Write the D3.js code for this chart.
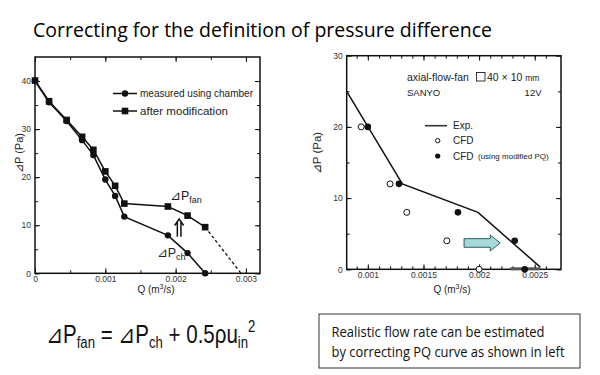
<!DOCTYPE html>
<html lang="en">
<head>
  <meta charset="UTF-8">
  <title>PQ correction</title>
  <script src="https://d3js.org/d3.v7.min.js"></script>
  <style>
    body { margin: 0; background: #fff; }
    .tick text { font-family: "Liberation Sans", Arial, sans-serif; font-size: 8.5px; fill: #333; }
    .lbl { font-family: "Liberation Sans", Arial, sans-serif; fill: #222; }
  </style>
</head>
<body>
  <svg width="600" height="375"></svg>

  <script>
    // left chart: measured with chamber vs after modification
    const qLeft = [0, 0.0002, 0.00045, 0.00067, 0.00083, 0.001, 0.00114, 0.00127, 0.00189, 0.00217, 0.00242];
    const pMeasured = [40, 35.6, 31.7, 27.7, 24.6, 19.5, 16.1, 11.8, 7.9, 4.2, 0];
    const pModified = [40.1, 35.8, 31.9, 28.4, 25.7, 21.2, 18.2, 14.5, 13.9, 12.0, 9.6];
    const qExtrap = [0.00242, 0.00293];
    const pExtrap = [9.6, 0];
    const leftXTicks = [0, 0.001, 0.002, 0.003];
    const leftYTicks = [0, 10, 20, 30, 40];

    // right chart: experiment vs CFD
    const qExp = [0.00081, 0.00131, 0.00199, 0.00255];
    const pExp = [25, 12, 8, 0.3];
    const qCfd = [0.00094, 0.0012, 0.00135, 0.00171, 0.002];
    const pCfd = [20, 12, 8, 4, 0];
    const qCfdMod = [0.001, 0.00128, 0.00181, 0.00232, 0.00241];
    const pCfdMod = [20, 12, 8, 4, 0];
    const rightXTicks = [0.001, 0.0015, 0.002, 0.0025];
    const rightYTicks = [0, 10, 20, 30];
    const shiftBar = [0.00228, 0.00255];

    let svg = d3.select("svg");
    const font = '"Liberation Sans", Arial, sans-serif';
    const humanist = '"Open Sans", "Noto Sans", sans-serif';

    // title
    svg.append("text")
      .attr("x", 33).attr("y", 37)
      .attr("font-family", humanist).attr("font-size", 20)
      .attr("textLength", 459).attr("lengthAdjust", "spacingAndGlyphs")
      .text("Correcting for the definition of pressure difference");

    // frame with inward ticks on all four sides
    function drawFrame(x, y, xMajor, xMinor, yMajor, yMinor, xFmt) {
      let [x0, x1] = x.range();
      let [y0, y1] = y.range();
      let g = svg.append("g");
      let makers = [
        () => d3.axisBottom(x), () => d3.axisTop(x),
        () => d3.axisLeft(y), () => d3.axisRight(y)
      ];
      let moves = ["translate(0," + y0 + ")", "translate(0," + y1 + ")",
                   "translate(" + x0 + ",0)", "translate(" + x1 + ",0)"];

      makers.forEach(function (mk, i) {
        let isX = i < 2;
        let labelled = i === 0 || i === 2;
        let ax = mk().tickValues(isX ? xMajor : yMajor)
          .tickSizeInner(-5).tickSizeOuter(0).tickPadding(isX ? 3 : 4)
          .tickFormat(labelled ? (isX ? xFmt : d3.format("d")) : "");
        let a = g.append("g").attr("transform", moves[i]).call(ax);
        a.select(".domain").remove();
        a.selectAll("line").attr("stroke", "#111");

        let minorAx = mk().tickValues(isX ? xMinor : yMinor)
          .tickSizeInner(-3).tickSizeOuter(0).tickFormat("");
        let m = g.append("g").attr("transform", moves[i]).call(minorAx);
        m.select(".domain").remove();
        m.selectAll("line").attr("stroke", "#111");
      });

      g.append("rect")
        .attr("x", x0).attr("y", y1)
        .attr("width", x1 - x0).attr("height", y0 - y1)
        .attr("fill", "none").attr("stroke", "#111").attr("stroke-width", 1.5);
      return g;
    }

    function qFmt(d) { return d === 0 ? "0" : String(+d.toFixed(4)); }

    // ---------------- left chart ----------------
    let xL = d3.scaleLinear().domain([0, 0.0032]).range([35, 260]);
    let yL = d3.scaleLinear().domain([0, 45]).range([273.3, 57]);

    drawFrame(xL, yL, leftXTicks, d3.range(0, 0.0032, 0.0005), leftYTicks, d3.range(0, 45, 5), qFmt);

    let lineL = d3.line().x(d => xL(d[0])).y(d => yL(d[1]));
    let measured = qLeft.map((q, i) => [q, pMeasured[i]]);
    let modified = qLeft.map((q, i) => [q, pModified[i]]);
    let extrap = qExtrap.map((q, i) => [q, pExtrap[i]]);

    svg.append("path").attr("d", lineL(measured)).attr("fill", "none").attr("stroke", "#111").attr("stroke-width", 1.5);
    svg.append("path").attr("d", lineL(modified)).attr("fill", "none").attr("stroke", "#111").attr("stroke-width", 1.5);
    svg.append("path").attr("d", lineL(extrap)).attr("fill", "none").attr("stroke", "#111")
      .attr("stroke-width", 1.3).attr("stroke-dasharray", "3,2.5");

    svg.selectAll(".mcirc").data(measured).enter().append("circle")
      .attr("cx", d => xL(d[0])).attr("cy", d => yL(d[1])).attr("r", 3.2).attr("fill", "#111");
    svg.selectAll(".msq").data(modified).enter().append("rect")
      .attr("x", d => xL(d[0]) - 3.3).attr("y", d => yL(d[1]) - 3.3)
      .attr("width", 6.6).attr("height", 6.6).attr("fill", "#111");

    // left legend
    [["measured using chamber", 93.5, "c", 113], ["after modification", 111, "s", 88]].forEach(function (l) {
      svg.append("line").attr("x1", 113).attr("x2", 137).attr("y1", l[1]).attr("y2", l[1])
        .attr("stroke", "#111").attr("stroke-width", 1.5);
      if (l[2] === "c") svg.append("circle").attr("cx", 125).attr("cy", l[1]).attr("r", 3.2).attr("fill", "#111");
      else svg.append("rect").attr("x", 121.7).attr("y", l[1] - 3.3).attr("width", 6.6).attr("height", 6.6).attr("fill", "#111");
      svg.append("text").attr("class", "lbl").attr("x", 140).attr("y", l[1] + 3.8)
        .attr("font-size", 10.5).attr("textLength", l[3]).attr("lengthAdjust", "spacingAndGlyphs").text(l[0]);
    });

    // annotations
    let fanLbl = svg.append("text").attr("class", "lbl").attr("x", xL(0.00192)).attr("y", yL(15.3)).attr("font-size", 12.5);
    fanLbl.append("tspan").text("⊿P");
    fanLbl.append("tspan").attr("font-size", 9).attr("dy", 3).text("fan");
    let chLbl = svg.append("text").attr("class", "lbl").attr("x", xL(0.00173)).attr("y", yL(3.4)).attr("font-size", 12.5);
    chLbl.append("tspan").text("⊿P");
    chLbl.append("tspan").attr("font-size", 9).attr("dy", 3).text("ch");

    // double arrow between the two curves
    let ux = xL(0.00205), uTop = yL(11.3), uBot = yL(7.6);
    svg.append("path")
      .attr("d", "M" + (ux - 4.5) + "," + (uTop + 6.5) + "L" + ux + "," + uTop + "L" + (ux + 4.5) + "," + (uTop + 6.5) +
        "M" + (ux - 1.8) + "," + (uTop + 3) + "V" + uBot + "M" + (ux + 1.8) + "," + (uTop + 3) + "V" + uBot)
      .attr("fill", "none").attr("stroke", "#111").attr("stroke-width", 1.5);

    // axis titles
    svg.append("text").attr("class", "lbl").attr("font-size", 11).attr("text-anchor", "middle")
      .attr("transform", "translate(22.5,153) rotate(-90)").text("⊿P (Pa)");
    let qL = svg.append("text").attr("class", "lbl").attr("font-size", 10).attr("text-anchor", "middle")
      .attr("x", 156).attr("y", 293);
    qL.append("tspan").text("Q (m");
    qL.append("tspan").attr("font-size", 7).attr("dy", -4).text("3");
    qL.append("tspan").attr("dy", 4).text("/s)");

    // ---------------- right chart ----------------
    let xR = d3.scaleLinear().domain([0.00081, 0.002736]).range([346.7, 561]);
    let yR = d3.scaleLinear().domain([0, 30]).range([269.3, 55.7]);

    drawFrame(xR, yR, rightXTicks, d3.range(0.0009, 0.0027, 0.0001).map(d => +d.toFixed(4)), rightYTicks, d3.range(0, 30, 5), qFmt);

    let lineR = d3.line().x(d => xR(d[0])).y(d => yR(d[1]));
    svg.append("path").attr("d", lineR(qExp.map((q, i) => [q, pExp[i]])))
      .attr("fill", "none").attr("stroke", "#111").attr("stroke-width", 1.5);

    svg.append("rect")
      .attr("x", xR(shiftBar[0])).attr("y", yR(0) - 2)
      .attr("width", xR(shiftBar[1]) - xR(shiftBar[0])).attr("height", 3)
      .attr("fill", "#555");

    svg.selectAll(".ocfd").data(qCfd.map((q, i) => [q, pCfd[i]])).enter().append("circle")
      .attr("cx", d => xR(d[0])).attr("cy", d => yR(d[1])).attr("r", 3)
      .attr("fill", "#fff").attr("stroke", "#111").attr("stroke-width", 1);
    svg.selectAll(".fcfd").data(qCfdMod.map((q, i) => [q, pCfdMod[i]])).enter().append("circle")
      .attr("cx", d => xR(d[0])).attr("cy", d => yR(d[1])).attr("r", 3.3).attr("fill", "#111");

    // block arrow showing the shift
    let ax0 = xR(0.001865), ax1 = xR(0.00219), ay = yR(3.7);
    svg.append("path")
      .attr("d", "M" + ax0 + "," + (ay - 4.3) + "H" + (ax1 - 10) + "V" + (ay - 8) + "L" + ax1 + "," + ay +
        "L" + (ax1 - 10) + "," + (ay + 8) + "V" + (ay + 4.3) + "H" + ax0 + "Z")
      .attr("fill", "#a6d9da").attr("stroke", "#2d5a60").attr("stroke-width", 1);

    // right legend
    svg.append("text").attr("class", "lbl").attr("x", 407).attr("y", 80.7).attr("font-size", 10.5)
      .text("axial-flow-fan");
    svg.append("rect").attr("x", 476.5).attr("y", 72.5).attr("width", 8.5).attr("height", 8.5)
      .attr("fill", "none").attr("stroke", "#222").attr("stroke-width", 0.9);
    let dim = svg.append("text").attr("class", "lbl").attr("x", 487).attr("y", 80.7).attr("font-size", 10.5);
    dim.append("tspan").text("40 × 10 ");
    dim.append("tspan").attr("font-size", 8.5).text("mm");
    svg.append("text").attr("class", "lbl").attr("x", 407).attr("y", 96).attr("font-size", 9.5).text("SANYO");
    svg.append("text").attr("class", "lbl").attr("x", 541.5).attr("y", 96).attr("font-size", 9.5)
      .attr("text-anchor", "end").text("12V");

    svg.append("line").attr("x1", 425).attr("x2", 447).attr("y1", 125.7).attr("y2", 125.7)
      .attr("stroke", "#333").attr("stroke-width", 1.6);
    svg.append("text").attr("class", "lbl").attr("x", 453).attr("y", 128.6).attr("font-size", 10).text("Exp.");
    svg.append("circle").attr("cx", 437.7).attr("cy", 140.7).attr("r", 2.2)
      .attr("fill", "#fff").attr("stroke", "#111").attr("stroke-width", 1);
    svg.append("text").attr("class", "lbl").attr("x", 453).attr("y", 144.4).attr("font-size", 10).text("CFD");
    svg.append("circle").attr("cx", 437.7).attr("cy", 156).attr("r", 2.6).attr("fill", "#111");
    svg.append("text").attr("class", "lbl").attr("x", 453).attr("y", 160).attr("font-size", 10).text("CFD");
    svg.append("text").attr("class", "lbl").attr("x", 478).attr("y", 159).attr("font-size", 8).text("(using modified PQ)");

    svg.append("text").attr("class", "lbl").attr("font-size", 11.5).attr("text-anchor", "middle")
      .attr("transform", "translate(321,153) rotate(-90)").text("⊿P  (Pa)");
    let qR = svg.append("text").attr("class", "lbl").attr("font-size", 10).attr("text-anchor", "middle")
      .attr("x", 452).attr("y", 293);
    qR.append("tspan").text("Q  (m");
    qR.append("tspan").attr("font-size", 7).attr("dy", -4).text("3");
    qR.append("tspan").attr("dy", 4).text("/s)");

    // ---------------- bottom: formula and note ----------------
    // narrow the formula horizontally like the original's condensed face
    let f = svg.append("text")
      .attr("transform", "translate(46,342.7) scale(0.82,1)")
      .attr("font-family", font).attr("font-size", 25).attr("fill", "#111");
    f.append("tspan").text("⊿P");
    f.append("tspan").attr("font-size", 16).attr("dy", 5).text("fan");
    f.append("tspan").attr("dy", -5).text(" = ⊿P");
    f.append("tspan").attr("font-size", 16).attr("dy", 5).text("ch");
    f.append("tspan").attr("dy", -5).text(" + 0.5ρu");
    f.append("tspan").attr("font-size", 16).attr("dy", 5).text("in");
    f.append("tspan").attr("font-size", 16).attr("dy", -16).text("2");

    svg.append("rect").attr("x", 319).attr("y", 314).attr("width", 261).attr("height", 54)
      .attr("fill", "#fff").attr("stroke", "#333").attr("stroke-width", 1);
    [["Realistic flow rate can be estimated", 337.3, 213], ["by correcting PQ curve as shown in left", 357, 233]]
      .forEach(function (t) {
        svg.append("text").attr("x", 331.5).attr("y", t[1])
          .attr("font-family", humanist).attr("font-size", 14.5).attr("fill", "#111")
          .attr("textLength", t[2]).attr("lengthAdjust", "spacingAndGlyphs")
          .text(t[0]);
      });
  </script>
</body>
</html>
